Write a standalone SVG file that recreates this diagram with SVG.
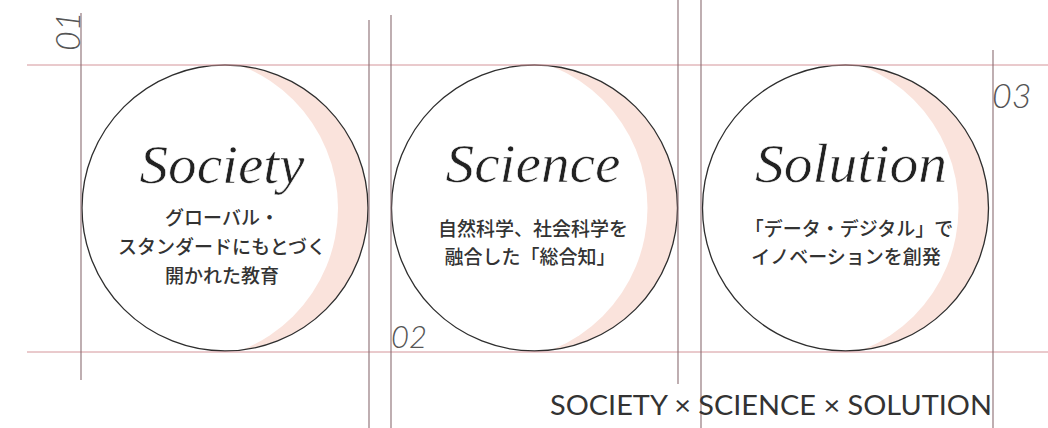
<svg xmlns="http://www.w3.org/2000/svg" width="1048" height="428" viewBox="0 0 1048 428">
<style>
.hl{stroke:#d4959a;stroke-width:1;fill:none}
.vl{stroke:#8a6c72;stroke-width:1.1;fill:none}
.ring{fill:none;stroke:#2e2e2e;stroke-width:1.3}
.pink{fill:#fae3dc}
.script{font-family:"Liberation Serif",serif;font-style:italic;font-size:54px;fill:#222;stroke:#fff;stroke-width:0.6;text-anchor:middle}
.jp{font-family:"Noto Sans CJK JP","Noto Sans",sans-serif;font-size:19px;font-weight:500;fill:#333;text-anchor:middle}
.num{font-family:Lato,"Liberation Sans",sans-serif;font-weight:300;font-style:italic;fill:#555}
.foot{font-family:Lato,"Open Sans",sans-serif;font-size:27px;fill:#333;text-anchor:end}
</style>
<defs>
<clipPath id="c1"><circle cx="225" cy="208" r="143"/></clipPath>
<clipPath id="c2"><circle cx="534.5" cy="208" r="143"/></clipPath>
<clipPath id="c3"><circle cx="845.5" cy="208" r="143"/></clipPath>
</defs>
<rect width="1048" height="428" fill="#fff"/>

<g id="node-society">
<g clip-path="url(#c1)"><circle class="pink" cx="225" cy="208" r="143"/><circle cx="185" cy="208" r="153" fill="#fff"/></g>
<circle class="ring" cx="225" cy="208" r="143"/>
<text class="script" x="222" y="183" textLength="165" lengthAdjust="spacingAndGlyphs">Society</text>
<text class="jp" x="222" y="225">グローバル・</text>
<text class="jp" x="222" y="254">スタンダードにもとづく</text>
<text class="jp" x="222" y="283">開かれた教育</text>
</g>

<g id="node-science">
<g clip-path="url(#c2)"><circle class="pink" cx="534.5" cy="208" r="143"/><circle cx="494.5" cy="208" r="153" fill="#fff"/></g>
<circle class="ring" cx="534.5" cy="208" r="143"/>
<text class="script" x="533" y="182" textLength="175" lengthAdjust="spacingAndGlyphs">Science</text>
<text class="jp" x="533" y="236">自然科学、社会科学を</text>
<text class="jp" x="530" y="264">融合した「総合知」</text>
</g>

<g id="node-solution">
<g clip-path="url(#c3)"><circle class="pink" cx="845.5" cy="208" r="143"/><circle cx="805.5" cy="208" r="153" fill="#fff"/></g>
<circle class="ring" cx="845.5" cy="208" r="143"/>
<text class="script" x="851" y="182" textLength="192" lengthAdjust="spacingAndGlyphs">Solution</text>
<text class="jp" x="849" y="236">「データ・デジタル」で</text>
<text class="jp" x="846" y="264">イノベーションを創発</text>
</g>

<g id="connectors">
<line class="hl" x1="27" y1="65" x2="1048" y2="65"/>
<line class="hl" x1="27" y1="352" x2="1048" y2="352"/>
<line class="vl" x1="81" y1="13" x2="81" y2="380"/>
<line class="vl" x1="369" y1="20" x2="369" y2="428"/>
<line class="vl" x1="391" y1="15" x2="391" y2="428"/>
<line class="vl" x1="678" y1="0" x2="678" y2="384"/>
<line class="vl" x1="701" y1="0" x2="701" y2="428"/>
<line class="vl" x1="993" y1="50" x2="993" y2="428"/>
</g>

<g id="labels">
<text class="num" font-size="34" transform="translate(80,51) rotate(-90)">01</text>
<text class="num" font-size="31" x="391" y="348">02</text>
<text class="num" font-size="34" x="992" y="108">03</text>
<text class="foot" x="992" y="415" textLength="442" lengthAdjust="spacingAndGlyphs">SOCIETY × SCIENCE × SOLUTION</text>
</g>
</svg>
